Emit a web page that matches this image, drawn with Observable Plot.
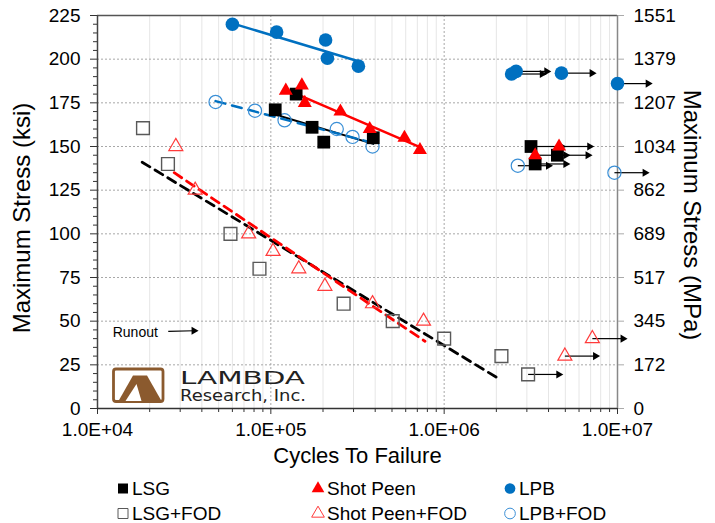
<!DOCTYPE html>
<html><head><meta charset="utf-8">
<script src="https://cdn.jsdelivr.net/npm/d3@7"></script>
<script src="https://cdn.jsdelivr.net/npm/@observablehq/plot@0.6"></script>
<style>
body{margin:0;background:#fff;font-family:"Liberation Sans",Arial,sans-serif;}
#wrap{position:relative;width:715px;height:523px;overflow:hidden;}
#legend{position:absolute;left:0;top:470px;width:715px;height:53px;font-size:19px;color:#000;}
.item{position:absolute;display:flex;align-items:center;white-space:nowrap;line-height:1;transform:translateY(-50%);}
.item svg{margin-right:2px;overflow:visible}
</style></head><body><div id="wrap"><div id="chart"></div><div id="legend"></div></div>
<script>
// ---- Tick labels ----
const xTicks = [1e4, 1e5, 1e6, 1e7];
const xTickLabels = ["1.0E+04", "1.0E+05", "1.0E+06", "1.0E+07"];
const yTicks = [0, 25, 50, 75, 100, 125, 150, 175, 200, 225];
const mpaLabels = ["0", "172", "345", "517", "689", "862", "1034", "1207", "1379", "1551"];

// ---- Series (cycles, max stress ksi); run = runout ----
const lsg = [
  {n: 1.06e5, s: 171}, {n: 1.40e5, s: 180}, {n: 1.73e5, s: 161}, {n: 2.02e5, s: 152.5}, {n: 3.9e5, s: 155},
  {n: 3.17e6, s: 150, run: true}, {n: 3.35e6, s: 140, run: true}, {n: 4.5e6, s: 145, run: true}
];
const shotPeen = [
  {n: 1.22e5, s: 182}, {n: 1.51e5, s: 185}, {n: 1.57e5, s: 175}, {n: 2.52e5, s: 170}, {n: 3.72e5, s: 160},
  {n: 5.9e5, s: 155}, {n: 7.25e5, s: 148},
  {n: 3.35e6, s: 145, run: true}, {n: 4.6e6, s: 150, run: true}
];
const lpb = [
  {n: 6.0e4, s: 220}, {n: 1.08e5, s: 215.5}, {n: 2.07e5, s: 211}, {n: 2.12e5, s: 200.5}, {n: 3.2e5, s: 196},
  {n: 2.45e6, s: 191.5, run: true}, {n: 2.6e6, s: 193, run: true}, {n: 4.75e6, s: 192, run: true}, {n: 1.0e7, s: 186, run: true}
];
const lsgFod = [
  {n: 1.83e4, s: 160.5}, {n: 2.55e4, s: 140}, {n: 5.85e4, s: 100}, {n: 8.6e4, s: 80}, {n: 2.63e5, s: 60},
  {n: 5.05e5, s: 50}, {n: 1.0e6, s: 40}, {n: 2.14e6, s: 30},
  {n: 3.05e6, s: 19.5, run: true}
];
const shotPeenFod = [
  {n: 2.83e4, s: 150}, {n: 3.66e4, s: 125}, {n: 7.45e4, s: 100}, {n: 1.03e5, s: 90}, {n: 1.45e5, s: 80},
  {n: 2.05e5, s: 70}, {n: 3.86e5, s: 60}, {n: 7.6e5, s: 50},
  {n: 4.97e6, s: 30, run: true}, {n: 7.16e6, s: 40, run: true}
];
const lpbFod = [
  {n: 4.8e4, s: 175.5}, {n: 8.1e4, s: 170.5}, {n: 1.2e5, s: 165}, {n: 2.4e5, s: 160}, {n: 2.96e5, s: 155.5},
  {n: 3.86e5, s: 150},
  {n: 2.66e6, s: 139, run: true}, {n: 9.6e6, s: 135, run: true}
];

// ---- Trend lines (end points) ----
const fitLpb = [{n: 6.0e4, s: 220.5}, {n: 3.27e5, s: 198.5}];
const fitShotPeen = [{n: 1.2e5, s: 183}, {n: 7.3e5, s: 149.5}];
const fitLsg = [{n: 1.0e5, s: 169}, {n: 3.9e5, s: 151.5}];
const fitLpbFod = [{n: 4.8e4, s: 176}, {n: 3.9e5, s: 152}];
const fitLsgFod = [{n: 1.81e4, s: 141}, {n: 2.11e6, s: 16.5}];
const fitShotPeenFod = [{n: 2.77e4, s: 135}, {n: 7.75e5, s: 38.5}];

const BLUE = "#0070C0", RED = "#FF0000";
const xMinor = [];
for (const d of [1e4, 1e5, 1e6]) for (let k = 2; k <= 9; k++) xMinor.push(k * d);
const yMinor = d3.range(0, 226, 5).filter(v => v % 25 !== 0);
const runouts = [...lsg, ...shotPeen, ...lpb, ...lsgFod, ...shotPeenFod, ...lpbFod].filter(d => d.run);
const ARROW = 1.5;

const chart = Plot.plot({
  width: 715, height: 470,
  marginLeft: 97, marginRight: 98, marginTop: 15, marginBottom: 62,
  style: {fontFamily: "Liberation Sans, Arial, sans-serif", background: "white", overflow: "visible", color: "#000"},
  x: {type: "log", domain: [1e4, 1e7]},
  y: {domain: [0, 225]},
  marks: [
    Plot.ruleX(xMinor, {stroke: "#e6e6e6", strokeWidth: 1}),
    Plot.ruleX([1e5, 1e6], {stroke: "#a8a8a8", strokeDasharray: "2,2"}),
    Plot.ruleY(yTicks.filter(v => v > 0 && v < 225), {stroke: "#a8a8a8", strokeDasharray: "2,2"}),
    Plot.ruleY([225], {stroke: "#555", strokeWidth: 1.5}),
    Plot.ruleX([1e7], {stroke: "#888", strokeWidth: 1.5}),
    Plot.ruleX([1e4], {stroke: "#444", strokeWidth: 1.5}),
    Plot.ruleY([0], {stroke: "#333", strokeWidth: 1.5}),
    Plot.axisX({ticks: xTicks, tickFormat: d => xTickLabels[xTicks.indexOf(d)], tickSize: 6, tickPadding: 8, fontSize: 19, label: null, stroke: "#333"}),
    Plot.axisX({ticks: xMinor, tickSize: 4, tickFormat: () => "", label: null, stroke: "#333"}),
    Plot.axisY({ticks: yTicks, tickSize: 7, tickPadding: 10, fontSize: 19, label: null, stroke: "#333"}),
    Plot.axisY({ticks: yMinor, tickSize: 4, tickFormat: () => "", label: null, stroke: "#333"}),
    Plot.axisY({anchor: "right", ticks: yTicks, tickFormat: d => mpaLabels[yTicks.indexOf(d)], tickSize: 6, tickPadding: 10, fontSize: 19, label: null, stroke: "#aaa"}),
    Plot.text(["Maximum Stress (ksi)"], {text: d => d, frameAnchor: "left", textAnchor: "middle", lineAnchor: "middle", dx: -75, dy: 6, rotate: -90, fontSize: 24}),
    Plot.text(["Maximum Stress (MPa)"], {text: d => d, frameAnchor: "right", textAnchor: "middle", lineAnchor: "middle", dx: 74, dy: 3, rotate: 90, fontSize: 24}),
    Plot.text(["Cycles To Failure"], {text: d => d, frameAnchor: "bottom", textAnchor: "middle", lineAnchor: "middle", dy: 47, fontSize: 22}),
    // trend lines
    Plot.line(fitLpb, {x: "n", y: "s", stroke: BLUE, strokeWidth: 2.5}),
    Plot.line(fitShotPeen, {x: "n", y: "s", stroke: RED, strokeWidth: 2.5}),
    Plot.line(fitLsg, {x: "n", y: "s", stroke: "#000", strokeWidth: 2}),
    Plot.line(fitLpbFod, {x: "n", y: "s", stroke: BLUE, strokeWidth: 2.5, strokeDasharray: "10,7"}),
    Plot.line(fitLsgFod, {x: "n", y: "s", stroke: "#000", strokeWidth: 2.8, strokeDasharray: "9,6"}),
    Plot.line(fitShotPeenFod, {x: "n", y: "s", stroke: RED, strokeWidth: 2.8, strokeDasharray: "9,6"}),
    // runout arrows
    Plot.link(runouts, {x1: "n", y1: "s", x2: d => d.n * ARROW, y2: "s", stroke: "#000", strokeWidth: 1.2}),
    Plot.dot(runouts, {x: d => d.n * ARROW, y: "s", symbol: "triangle", rotate: 90, r: 3, fill: "#000"}),
    // runout note
    Plot.text(["Runout"], {text: d => d, x: 1.224e4, y: 43.5, textAnchor: "start", fontSize: 14}),
    Plot.link([0], {x1: 2.56e4, x2: 3.6e4, y1: 44.2, y2: 44.5, stroke: "#000", strokeWidth: 1.2}),
    Plot.dot([0], {x: 3.6e4, y: 44.5, symbol: "triangle", rotate: 90, r: 3, fill: "#000"}),
    // markers
    Plot.dot(lsgFod, {x: "n", y: "s", symbol: "square", r: 7.2, fill: "none", stroke: "#595959", strokeWidth: 1.4}),
    Plot.dot(shotPeenFod, {x: "n", y: "s", symbol: "triangle", r: 5.2, fill: "none", stroke: "#ff3b3b", strokeWidth: 1.2}),
    Plot.dot(lpbFod, {x: "n", y: "s", symbol: "circle", r: 6.6, fill: "none", stroke: "#3a8fd6", strokeWidth: 1.2}),
    Plot.dot(lpb, {x: "n", y: "s", symbol: "circle", r: 6.8, fill: BLUE}),
    Plot.dot(lsg, {x: "n", y: "s", symbol: "square", r: 7.2, fill: "#000"}),
    Plot.dot(shotPeen, {x: "n", y: "s", symbol: "triangle", r: 5.2, fill: RED})
  ]
});
document.getElementById("chart").appendChild(chart);

// ---- LAMBDA Research logo (decorative) ----
const BROWN = "#8B5A2E";
const g = d3.select(chart).append("g").attr("text-anchor", "start");
g.append("rect").attr("x", 113.5).attr("y", 369).attr("width", 49.5).attr("height", 32.5).attr("rx", 2.5)
  .attr("fill", "white").attr("stroke", BROWN).attr("stroke-width", 2.8);
g.append("polygon").attr("points", "118.5,401 133,375.5 147,375.5 161.5,401").attr("fill", BROWN);
g.append("polygon").attr("points", "125.5,401 136.5,384 141.5,401").attr("fill", "white");
g.append("text").attr("x", 180).attr("y", 384).attr("text-anchor", "start").attr("font-family", "DejaVu Sans, sans-serif").attr("font-size", 18.5)
  .attr("textLength", 125).attr("lengthAdjust", "spacingAndGlyphs").attr("fill", "#222").text("LAMBDA");
g.append("text").attr("x", 180).attr("y", 401).attr("text-anchor", "start").attr("font-family", "DejaVu Sans, sans-serif").attr("font-size", 15)
  .attr("textLength", 126).attr("lengthAdjust", "spacingAndGlyphs").attr("fill", "#222").text("Research, Inc.");

// ---- Legend ----
const legendItems = [
  {label: "LSG", symbol: d3.symbolSquare, fill: "#000", stroke: "none"},
  {label: "Shot Peen", symbol: d3.symbolTriangle, fill: RED, stroke: "none"},
  {label: "LPB", symbol: d3.symbolCircle, fill: BLUE, stroke: "none"},
  {label: "LSG+FOD", symbol: d3.symbolSquare, fill: "none", stroke: "#595959"},
  {label: "Shot Peen+FOD", symbol: d3.symbolTriangle, fill: "none", stroke: "#ff3b3b"},
  {label: "LPB+FOD", symbol: d3.symbolCircle, fill: "none", stroke: "#3a8fd6"}
];
const colLeft = [116, 311, 503];
const rowTop = [18, 43];
const legend = document.getElementById("legend");
legendItems.forEach((it, i) => {
  const div = document.createElement("div");
  div.className = "item";
  div.style.left = colLeft[i % 3] + "px";
  div.style.top = rowTop[Math.floor(i / 3)] + "px";
  const size = it.symbol === d3.symbolSquare ? 100 : it.symbol === d3.symbolTriangle ? 70 : 90;
  const path = d3.symbol(it.symbol, size)();
  div.innerHTML = `<svg width="14" height="14" viewBox="-7 -7 14 14"><path d="${path}" fill="${it.fill}" stroke="${it.stroke}" stroke-width="1"/></svg><span>${it.label}</span>`;
  legend.appendChild(div);
});
</script></body></html>
